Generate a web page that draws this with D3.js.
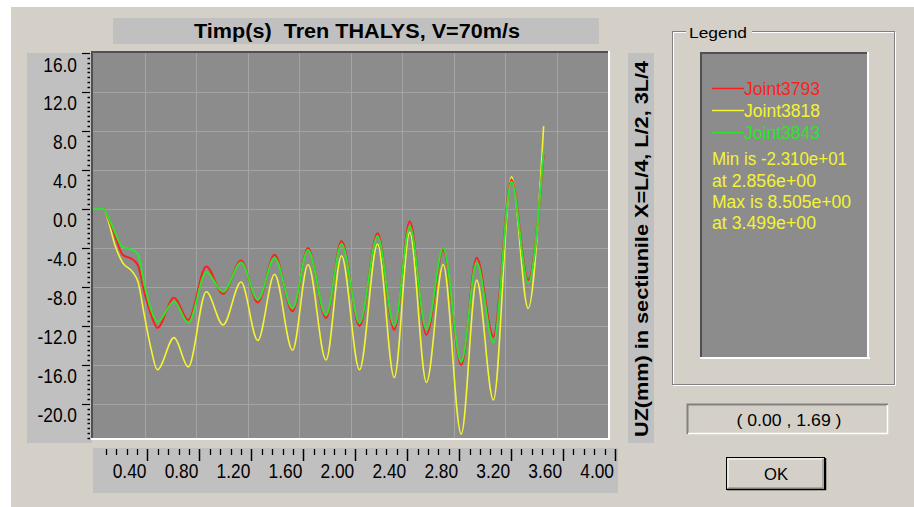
<!DOCTYPE html>
<html><head><meta charset="utf-8">
<script src="https://cdn.jsdelivr.net/npm/d3@7/dist/d3.min.js"></script>
<style>
body{margin:0;background:#fff;}
svg{display:block;font-family:"Liberation Sans",Arial,sans-serif;}
</style>
</head><body>
<svg id="c" width="914" height="507"></svg>
<script>
// ---- data ----
const times = [0, 0.08, 0.12, 0.17, 0.23, 0.31, 0.35, 0.40, 0.45, 0.50, 0.63, 0.74, 0.88, 1.01, 1.15, 1.28, 1.41, 1.55, 1.67, 1.81, 1.93, 2.07, 2.21, 2.34, 2.46, 2.59, 2.72, 2.86, 2.98, 3.11, 3.25, 3.38, 3.50];
const joint3793 = [0, 0, -1.0, -2.7, -4.7, -5.2, -5.8, -8.6, -10.8, -12.2, -9.1, -11.4, -5.9, -8.7, -5.3, -9.6, -4.7, -10.5, -4.0, -11.2, -3.3, -12.0, -2.5, -12.4, -1.3, -12.9, -4.2, -16.0, -5.0, -13.1, 3.0, -7.3, 5.6];
const joint3818 = [0, 0, -1.3, -3.7, -5.5, -6.5, -7.5, -11.0, -14.3, -16.5, -13.2, -16.2, -8.5, -11.9, -7.5, -13.5, -6.7, -14.5, -5.7, -15.5, -4.8, -16.5, -3.6, -17.3, -2.4, -17.8, -5.7, -23.1, -7.3, -19.6, 3.3, -10.2, 8.5];
const joint3843 = [0, 0, -0.9, -2.4, -3.9, -4.2, -4.7, -7.8, -10.3, -11.6, -9.5, -11.7, -6.5, -8.5, -5.5, -9.3, -5.0, -10.2, -4.2, -10.9, -3.6, -11.7, -2.8, -12.0, -1.8, -12.4, -4.0, -15.7, -5.5, -13.7, 2.8, -7.6, 5.9];
const seriesNames = ["Joint3793", "Joint3818", "Joint3843"];
const seriesColors = ["#ff1e1e", "#f4f432", "#2ee22e"];
const yTickValues = [16, 12, 8, 4, 0, -4, -8, -12, -16, -20];
const yTickLabels = ["16.0", "12.0", "8.0", "4.0", "0.0", "-4.0", "-8.0", "-12.0", "-16.0", "-20.0"];
const xTickValues = [0.4, 0.8, 1.2, 1.6, 2.0, 2.4, 2.8, 3.2, 3.6, 4.0];
const xTickLabels = ["0.40", "0.80", "1.20", "1.60", "2.00", "2.40", "2.80", "3.20", "3.60", "4.00"];
const titleText = "Timp(s)  Tren THALYS, V=70m/s";
const yAxisTitle = "UZ(mm) in sectiunile X=L/4, L/2, 3L/4";
const statLines = ["Min is -2.310e+01", "at 2.856e+00", "Max is 8.505e+00", "at 3.499e+00"];
const coordText = "( 0.00 , 1.69 )";

// ---- layout ----
const svg = d3.select("#c");
const DLG = "#d4d0c8", PANEL = "#c0c0c0", PLOT = "#8c8c8c", GRID = "#a4a4a4";
const P = {l: 93, r: 608, t: 53, b: 438};

const x = d3.scaleLinear().domain([0, 4]).range([P.l, P.r]);
const y = d3.scaleLinear().domain([-23.5, 16]).range([P.b, P.t]);
const xr = d3.scaleLinear().domain([0, 4]).range([95.5, 615]); // ruler below

svg.append("rect").attr("x", 11).attr("y", 7).attr("width", 903).attr("height", 500).attr("fill", DLG);

// title
svg.append("rect").attr("x", 113).attr("y", 18).attr("width", 486).attr("height", 26).attr("fill", PANEL);
svg.append("text").attr("x", 357).attr("y", 38).attr("text-anchor", "middle")
  .style("white-space", "pre").attr("xml:space", "preserve")
  .attr("font-weight", "bold").attr("font-size", 20).attr("textLength", 326).attr("lengthAdjust", "spacingAndGlyphs")
  .text(titleText);

// y ruler panel
svg.append("rect").attr("x", 27).attr("y", 53).attr("width", 65).attr("height", 390).attr("fill", PANEL);
// x ruler panel
svg.append("rect").attr("x", 93).attr("y", 448).attr("width", 525).attr("height", 45).attr("fill", PANEL);
// right title panel
svg.append("rect").attr("x", 628).attr("y", 53).attr("width", 26).attr("height", 390).attr("fill", PANEL);

// plot
svg.append("rect").attr("x", P.l).attr("y", P.t).attr("width", P.r - P.l).attr("height", P.b - P.t).attr("fill", PLOT);
const grid = svg.append("g");
grid.selectAll(".gx").data(xTickValues.slice(0, -1)).join("line")
  .attr("x1", d => Math.round(x(d)) + 0.5).attr("x2", d => Math.round(x(d)) + 0.5)
  .attr("y1", P.t).attr("y2", P.b).attr("stroke", GRID).attr("stroke-width", 1);
grid.selectAll(".gy").data(yTickValues.slice(1)).join("line")
  .attr("y1", d => Math.round(y(d)) + 0.5).attr("y2", d => Math.round(y(d)) + 0.5)
  .attr("x1", P.l).attr("x2", P.r).attr("stroke", GRID).attr("stroke-width", 1);

// curves
svg.append("clipPath").attr("id", "clip").append("rect")
  .attr("x", P.l).attr("y", P.t).attr("width", P.r - P.l).attr("height", P.b - P.t);
const line = d3.line().x(d => x(d[0])).y(d => y(d[1])).curve(d3.curveMonotoneX);
const allSeries = [joint3793, joint3818, joint3843];
const order = [1, 0, 2];
const gl = svg.append("g").attr("clip-path", "url(#clip)");
order.forEach(i => {
  gl.append("path").datum(times.map((t, k) => [t, allSeries[i][k]]))
    .attr("d", line).attr("fill", "none").attr("stroke", seriesColors[i])
    .attr("stroke-width", i === 1 ? 1.6 : 2).attr("stroke-linejoin", "round");
});

// plot borders (sunken)
svg.append("line").attr("x1", 91).attr("x2", 609).attr("y1", 52).attr("y2", 52).attr("stroke", "#505050").attr("stroke-width", 2);
svg.append("line").attr("x1", 92).attr("x2", 92).attr("y1", 51).attr("y2", 440).attr("stroke", "#505050").attr("stroke-width", 2);
svg.append("line").attr("x1", 91).attr("x2", 610).attr("y1", 439).attr("y2", 439).attr("stroke", "#ffffff").attr("stroke-width", 2);
svg.append("line").attr("x1", 609).attr("x2", 609).attr("y1", 51).attr("y2", 440).attr("stroke", "#ffffff").attr("stroke-width", 2);

// y ruler ticks
const yMinor = d3.range(-47, 33).map(k => k * 0.5);
svg.append("g").selectAll("line").data(yMinor).join("line")
  .attr("y1", d => Math.round(y(d)) + 0.5).attr("y2", d => Math.round(y(d)) + 0.5)
  .attr("x1", d => (Math.abs(d % 4) < 1e-9 ? 82 : 87.5)).attr("x2", 90)
  .attr("stroke", "#000").attr("stroke-width", d => (Math.abs(d % 4) < 1e-9 ? 1.2 : 1.5));
svg.append("g").selectAll("text").data(yTickValues).join("text")
  .attr("transform", d => `translate(77,${y(d) + 18.5}) scale(0.89,1)`)
  .attr("text-anchor", "end").attr("font-size", 19.5).attr("fill", "#000")
  .text((d, i) => yTickLabels[i]);

// x ruler ticks
const xMinor = d3.range(1, 51).map(k => k * 0.08);
svg.append("g").selectAll("line").data(xMinor).join("line")
  .attr("x1", d => Math.round(xr(d)) + 0.5).attr("x2", d => Math.round(xr(d)) + 0.5)
  .attr("y1", 449).attr("y2", (d, i) => ((i + 1) % 5 === 0 ? 461 : 455))
  .attr("stroke", "#000").attr("stroke-width", (d, i) => ((i + 1) % 5 === 0 ? 1.5 : 1.3));
svg.append("g").selectAll("text").data(xTickValues).join("text")
  .attr("transform", d => `translate(${xr(d) - 1},478) scale(0.89,1)`)
  .attr("text-anchor", "end").attr("font-size", 19.5).attr("fill", "#000")
  .text((d, i) => xTickLabels[i]);

// right y title (rotated)
svg.append("text").attr("transform", "translate(648,249) rotate(-90)")
  .attr("text-anchor", "middle").attr("font-weight", "bold").attr("font-size", 19)
  .attr("textLength", 376).attr("lengthAdjust", "spacingAndGlyphs")
  .text(yAxisTitle);

// legend group box (etched)
const gb = {x: 673, y: 32, w: 222, h: 353};
svg.append("rect").attr("x", gb.x + 0.5).attr("y", gb.y + 0.5).attr("width", gb.w).attr("height", gb.h)
  .attr("fill", "none").attr("stroke", "#ffffff");
svg.append("rect").attr("x", gb.x - 0.5).attr("y", gb.y - 0.5).attr("width", gb.w).attr("height", gb.h)
  .attr("fill", "none").attr("stroke", "#808080");
svg.append("rect").attr("x", 686).attr("y", 24).attr("width", 66).attr("height", 14).attr("fill", DLG);
svg.append("text").attr("x", 689).attr("y", 38).attr("font-size", 15.5)
  .attr("textLength", 58).attr("lengthAdjust", "spacingAndGlyphs").text("Legend");

// legend inner panel
svg.append("rect").attr("x", 701).attr("y", 53).attr("width", 167).attr("height", 305).attr("fill", PLOT);
svg.append("line").attr("x1", 700).attr("x2", 869).attr("y1", 53).attr("y2", 53).attr("stroke", "#505050").attr("stroke-width", 2);
svg.append("line").attr("x1", 701).attr("x2", 701).attr("y1", 52).attr("y2", 359).attr("stroke", "#505050").attr("stroke-width", 2);
svg.append("line").attr("x1", 700).attr("x2", 870).attr("y1", 358).attr("y2", 358).attr("stroke", "#ffffff").attr("stroke-width", 2);
svg.append("line").attr("x1", 868).attr("x2", 868).attr("y1", 52).attr("y2", 359).attr("stroke", "#ffffff").attr("stroke-width", 2);

const legY = [88, 110, 132];
seriesNames.forEach((n, i) => {
  svg.append("line").attr("x1", 712).attr("x2", 744).attr("y1", legY[i] + 0.5).attr("y2", legY[i] + 0.5)
    .attr("stroke", seriesColors[i]).attr("stroke-width", 1.5);
  svg.append("text").attr("x", 744).attr("y", legY[i] + 7).attr("font-size", 17.5)
    .attr("fill", seriesColors[i]).attr("textLength", 76).attr("lengthAdjust", "spacingAndGlyphs").text(n);
});
const statY = [165, 187, 208, 229];
const statW = [135, 104, 139, 104];
statLines.forEach((s, i) => {
  svg.append("text").attr("x", 712).attr("y", statY[i]).attr("font-size", 17.5)
    .attr("fill", "#f4f432").attr("textLength", statW[i]).attr("lengthAdjust", "spacingAndGlyphs").text(s);
});

// coordinate box
svg.append("rect").attr("x", 687).attr("y", 404).attr("width", 201).attr("height", 30).attr("fill", DLG);
svg.append("path").attr("d", "M687.5,434 V404.5 H888").attr("fill", "none").attr("stroke", "#808080").attr("stroke-width", 2);
svg.append("path").attr("d", "M688,433.5 H887.5 V405").attr("fill", "none").attr("stroke", "#ffffff").attr("stroke-width", 1.5);
svg.append("text").attr("x", 789).attr("y", 426).attr("text-anchor", "middle").attr("font-size", 17)
  .attr("textLength", 105).attr("lengthAdjust", "spacingAndGlyphs").text(coordText);

// OK button
svg.append("rect").attr("x", 726.5).attr("y", 457.5).attr("width", 98).attr("height", 32).attr("fill", DLG)
  .attr("stroke", "#000").attr("stroke-width", 1);
svg.append("path").attr("d", "M728,488 V459 H823").attr("fill", "none").attr("stroke", "#ffffff").attr("stroke-width", 1);
svg.append("path").attr("d", "M728,488 H823 V459").attr("fill", "none").attr("stroke", "#808080").attr("stroke-width", 1);
svg.append("path").attr("d", "M727,489.5 H825.5 V458").attr("fill", "none").attr("stroke", "#000").attr("stroke-width", 1.5);
svg.append("text").attr("x", 776).attr("y", 480).attr("text-anchor", "middle").attr("font-size", 17)
  .attr("textLength", 24).attr("lengthAdjust", "spacingAndGlyphs").text("OK");
</script>
</body></html>
